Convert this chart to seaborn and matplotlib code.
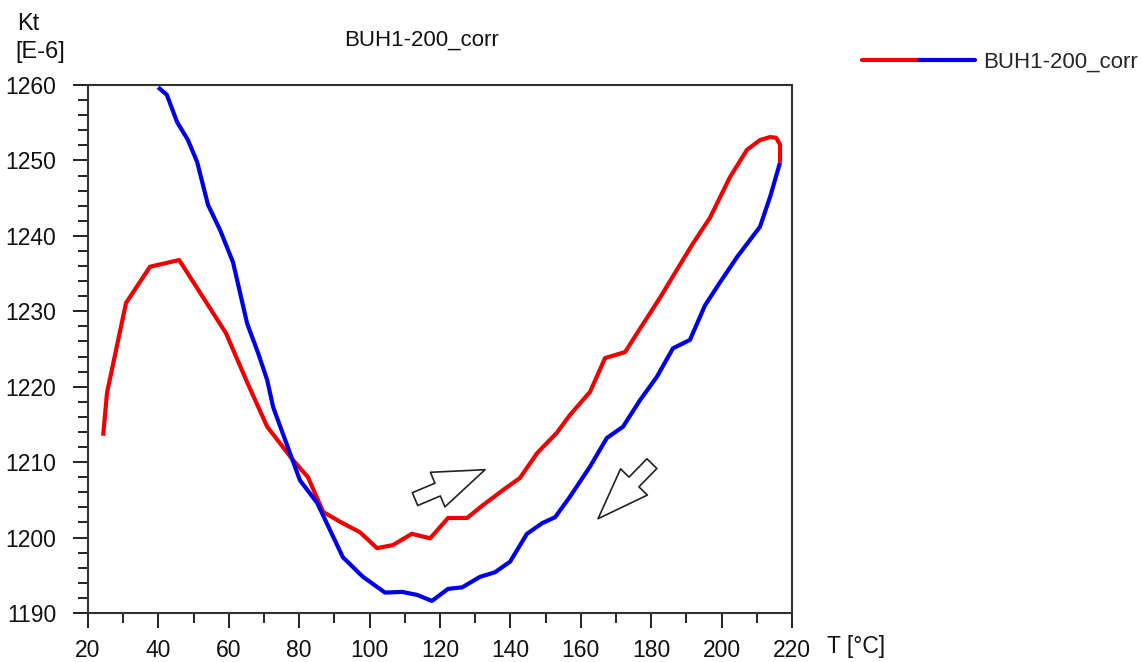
import numpy as np
import pandas as pd
import matplotlib
matplotlib.use("Agg")
import matplotlib.pyplot as plt
from matplotlib.lines import Line2D
from matplotlib.legend_handler import HandlerTuple
from matplotlib.patches import FancyArrowPatch
from matplotlib.ticker import MultipleLocator
import seaborn as sns

# Heating run (red): temperature [°C] and Kt [E-6]
heat_T = [24.3, 25.4, 30.8, 37.6, 45.9, 59.2, 65.2, 70.9, 78.2, 82.5, 86.8,
          91.6, 97.3, 102.1, 106.6, 112.0, 117.2, 122.3, 127.7, 132.2, 137.9,
          142.7, 147.6, 153.2, 157.0, 162.6, 166.9, 172.6, 176.0, 182.5, 187.3,
          191.6, 196.7, 202.4, 207.2, 210.9, 213.8, 215.5, 216.6, 216.6]
heat_Kt = [1213.5, 1219.2, 1231.1, 1235.9, 1236.8, 1227.1, 1220.6, 1214.7,
           1210.3, 1208.0, 1203.4, 1202.1, 1200.7, 1198.6, 1199.0, 1200.5,
           1199.9, 1202.6, 1202.6, 1204.3, 1206.3, 1207.9, 1211.2, 1213.9,
           1216.3, 1219.3, 1223.8, 1224.6, 1227.1, 1231.8, 1235.5, 1238.8,
           1242.4, 1247.8, 1251.4, 1252.7, 1253.1, 1253.0, 1252.1, 1249.7]

# Cooling run (blue)
cool_T = [216.6, 213.8, 210.9, 204.4, 199.5, 195.3, 191.0, 186.2, 181.6,
          176.8, 172.0, 167.4, 162.6, 156.9, 152.7, 149.0, 144.7, 139.9,
          135.6, 131.4, 126.3, 122.3, 117.7, 113.5, 109.2, 104.4, 98.1, 92.4,
          85.1, 80.2, 72.6, 70.9, 68.3, 65.2, 61.2, 57.5, 54.1, 51.0, 48.4,
          45.3, 42.4, 39.9]
cool_Kt = [1249.7, 1245.2, 1241.2, 1237.2, 1233.8, 1230.8, 1226.2, 1225.1,
           1221.3, 1218.2, 1214.7, 1213.2, 1209.4, 1205.4, 1202.7, 1201.9,
           1200.5, 1196.8, 1195.4, 1194.8, 1193.4, 1193.2, 1191.6, 1192.4,
           1192.8, 1192.7, 1194.8, 1197.4, 1204.6, 1207.6, 1217.3, 1220.9,
           1224.5, 1228.4, 1236.5, 1240.8, 1244.1, 1249.8, 1252.7, 1255.1,
           1258.7, 1259.7]

series_name = "BUH1-200_corr"
x_ticks = list(range(20, 221, 20))
y_ticks = list(range(1190, 1261, 10))

sns.set_style("ticks")
plt.rcParams["font.family"] = ["Liberation Sans", "DejaVu Sans"]

df = pd.concat([
    pd.DataFrame({"T": heat_T, "Kt": heat_Kt, "run": "heat"}),
    pd.DataFrame({"T": cool_T, "Kt": cool_Kt, "run": "cool"}),
], ignore_index=True)

fig = plt.figure(figsize=(11.43, 6.62), dpi=100)
ax = fig.add_axes([88 / 1143, 1 - 613 / 662, (792 - 88) / 1143, (613 - 85) / 662])

colors = {"heat": "#f00000", "cool": "#0000e6"}
sns.lineplot(data=df, x="T", y="Kt", hue="run", palette=colors, sort=False,
             estimator=None, legend=False, linewidth=3.0, ax=ax)
for ln in ax.get_lines():
    ln.set_solid_joinstyle("round")
    ln.set_solid_capstyle("butt")

ax.set_xlim(20, 220)
ax.set_ylim(1190, 1260)
ax.set_xticks(x_ticks)
ax.set_yticks(y_ticks)
ax.xaxis.set_minor_locator(MultipleLocator(10))
ax.yaxis.set_minor_locator(MultipleLocator(2))
ax.tick_params(axis="both", which="major", direction="out", length=11, width=1.4,
               color="#222222", labelsize=16.5, labelcolor="#111111")
ax.tick_params(axis="x", which="major", pad=7.5)
ax.tick_params(axis="y", which="major", pad=12)
ax.tick_params(axis="both", which="minor", direction="out", length=7, width=1.4,
               color="#222222")
for sp in ax.spines.values():
    sp.set_visible(True)
    sp.set_color("#333333")
    sp.set_linewidth(1.5)
ax.set_xlabel("")
ax.set_ylabel("")

# Axis captions and title
fig.text(17 / 1143, 1 - 24 / 662, "Kt", fontsize=17, va="center", ha="left", color="#111111")
fig.text(15 / 1143, 1 - 52 / 662, "[E-6]", fontsize=17, va="center", ha="left", color="#111111")
fig.text(421 / 1143, 1 - 40 / 662, series_name, fontsize=16, va="center", ha="center",
         color="#111111")
fig.text(827 / 1143, 1 - 647 / 662, "T [°C]", fontsize=16.5, va="center", ha="left",
         color="#111111")

# Legend: one entry whose line is half red, half blue
h_red = Line2D([], [], color=colors["heat"], linewidth=3.0)
h_blue = Line2D([], [], color=colors["cool"], linewidth=3.0)
fig.legend([(h_red, h_blue)], [series_name],
           handler_map={tuple: HandlerTuple(ndivide=None, pad=0)},
           loc="center left", bbox_to_anchor=(862 / 1143, 1 - 62 / 662),
           frameon=False, fontsize=16, handlelength=5.1, handletextpad=0.35,
           borderpad=0, borderaxespad=0)

# Direction arrows (heating up, cooling down)
arrow_kw = dict(arrowstyle="simple,head_length=37,head_width=27,tail_width=10",
                mutation_scale=1, facecolor="white", edgecolor="#222222",
                linewidth=1.2, shrinkA=0, shrinkB=0, zorder=5)
ax.add_patch(FancyArrowPatch((112.9, 1205.1), (132.8, 1209.0), **arrow_kw))
ax.add_patch(FancyArrowPatch((180.2, 1209.8), (164.9, 1202.5), **arrow_kw))

fig.savefig("out.png", dpi=100)
